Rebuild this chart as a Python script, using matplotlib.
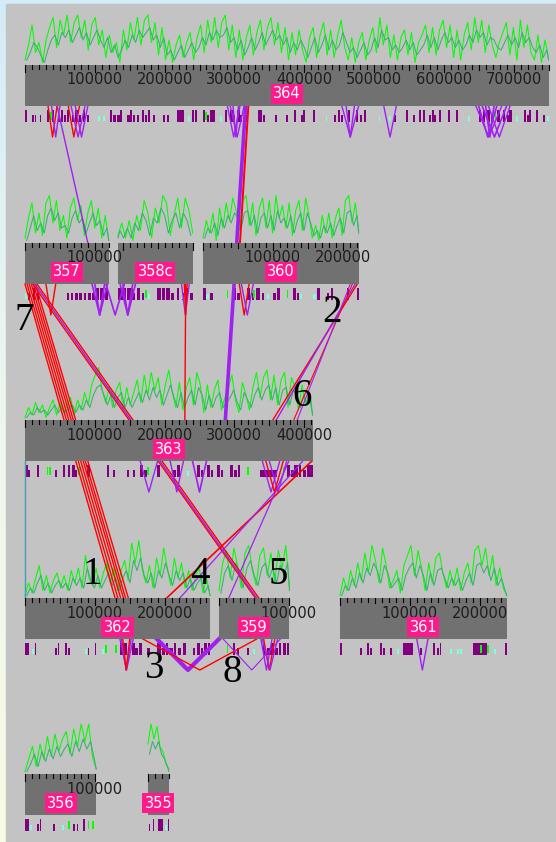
import numpy as np
import matplotlib
matplotlib.use("Agg")
import matplotlib.pyplot as plt
from matplotlib.patches import Rectangle

# contigs and their lengths (kb)
names = ["364", "357", "358c", "360", "363", "362", "359", "361", "356", "355"]
lengths_kb = [750, 120, 107, 223, 412, 265, 101, 239, 102, 30]

# GC traces (height units), fine window (bright) and coarse window (dark)
gc_364 = [2, 8, 16, 5, 9, 1, 10, 15, 19, 7, 18, 12, 20, 9, 17, 20, 11, 18, 6, 16,
          19, 8, 14, 3, 12, 5, 9, 1, 14, 6, 17, 10, 19, 8, 18, 20, 9, 17, 4, 15,
          2, 10, 1, 8, 12, 3, 9, 13, 2, 11, 16, 5, 18, 9, 19, 7, 17, 20, 6, 16,
          3, 14, 2, 11, 16, 4, 13, 18, 6, 15, 19, 8, 17, 5, 15, 2, 13, 4, 14, 6,
          1, 11, 15, 3, 12, 17, 4, 14, 3, 12, 18, 7, 2, 11, 1, 9, 13, 2, 10, 15,
          5, 19, 8, 16, 3, 12, 2, 11, 14, 4, 13, 1, 9, 12, 16, 5, 15, 4, 14, 18,
          7, 16, 3, 14, 2, 12, 17, 6, 19, 9, 18, 5, 16, 8, 3, 9, 13, 17, 4, 15,
          2, 18, 7, 16, 5, 2, 12, 1, 10, 3]
dk_364 = [2, 5, 9, 7, 4, 1, 6, 10, 12, 8, 13, 11, 14, 9, 12, 15, 10, 13, 8, 11,
          14, 10, 7, 11, 5, 8, 3, 6, 10, 7, 12, 9, 14, 11, 13, 15, 10, 12, 7, 11,
          4, 6, 2, 5, 8, 3, 6, 9, 5, 7, 11, 8, 13, 10, 14, 11, 12, 15, 9, 11,
          6, 10, 4, 7, 11, 6, 9, 13, 8, 11, 14, 10, 12, 8, 11, 5, 9, 6, 10, 7,
          3, 7, 11, 5, 8, 12, 6, 10, 6, 8, 13, 9, 5, 7, 3, 6, 9, 4, 6, 11,
          7, 14, 10, 11, 6, 8, 5, 7, 10, 6, 9, 4, 6, 8, 12, 7, 11, 6, 10, 13,
          9, 11, 7, 10, 6, 8, 12, 9, 14, 11, 13, 8, 11, 10, 7, 6, 9, 12, 8, 11,
          7, 13, 9, 11, 7, 5, 8, 3, 6, 2]
gc_357 = [2, 10, 16, 4, 12, 3, 16, 19, 8, 17, 5, 11, 2, 14, 18, 9, 15, 3, 12, 17, 6, 14, 2, 11, 1]
dk_357 = [1, 6, 11, 5, 8, 4, 11, 14, 9, 12, 6, 7, 4, 10, 13, 8, 10, 4, 8, 12, 7, 9, 3, 6, 1]
gc_358c = [4, 13, 18, 6, 18, 11, 3, 16, 19, 8, 14, 2, 12, 17, 5, 11, 1, 9, 2, 8, 3]
dk_358c = [3, 9, 12, 6, 12, 9, 4, 11, 14, 8, 10, 3, 9, 12, 5, 8, 2, 6, 2, 5, 2]
gc_360 = [2, 9, 4, 12, 1, 14, 6, 16, 9, 18, 13, 5, 17, 19, 7, 16, 3, 14, 18, 6,
          17, 4, 19, 10, 15, 6, 16, 3, 13, 17, 5, 18, 11, 2, 7, 1, 11, 4, 12, 2,
          10, 14, 3, 17, 19, 8, 16, 5]
dk_360 = [2, 6, 4, 8, 3, 10, 6, 11, 8, 12, 10, 6, 12, 13, 7, 11, 4, 10, 12, 6,
          11, 5, 13, 8, 10, 6, 11, 4, 9, 12, 5, 12, 8, 3, 5, 2, 7, 4, 8, 3,
          7, 10, 4, 12, 13, 7, 11, 4]
gc_363 = [1, 5, 2, 7, 3, 6, 1, 5, 8, 2, 7, 3, 6, 9, 2, 8, 4, 11, 6, 14,
          18, 21, 12, 7, 13, 5, 12, 15, 4, 13, 6, 11, 16, 7, 18, 10, 19, 12, 17, 6,
          14, 20, 11, 5, 15, 4, 13, 17, 6, 19, 14, 3, 14, 5, 12, 16, 4, 9, 13, 18,
          8, 3, 15, 10, 4, 13, 19, 9, 17, 20, 8, 18, 6, 16, 19, 5, 17, 13, 4, 14,
          6, 10, 2]
dk_363 = [1, 3, 2, 5, 3, 4, 2, 4, 6, 3, 5, 3, 5, 6, 3, 6, 4, 8, 5, 10,
          13, 14, 10, 6, 10, 5, 9, 11, 5, 9, 5, 8, 11, 7, 12, 8, 13, 9, 12, 6,
          10, 14, 9, 5, 11, 5, 9, 12, 6, 13, 10, 4, 10, 5, 9, 11, 5, 7, 9, 12,
          7, 4, 11, 8, 5, 10, 13, 8, 12, 14, 8, 13, 6, 12, 13, 6, 12, 10, 5, 10,
          6, 8, 2]
gc_362 = [1, 6, 2, 8, 13, 3, 9, 2, 7, 10, 4, 9, 3, 11, 6, 12, 4, 17, 8, 5,
          12, 4, 10, 14, 6, 12, 3, 11, 15, 7, 22, 14, 23, 11, 6, 13, 4, 16, 9, 20,
          12, 5, 16, 8, 14, 4, 11, 3, 9, 12, 2, 8, 1]
dk_362 = [1, 4, 2, 6, 9, 3, 6, 2, 5, 7, 4, 6, 3, 8, 5, 8, 4, 12, 7, 4,
          9, 4, 7, 10, 5, 8, 3, 8, 11, 6, 15, 11, 16, 9, 6, 10, 4, 11, 8, 14,
          9, 5, 11, 7, 10, 4, 8, 3, 6, 8, 2, 5, 1]
gc_359 = [3, 14, 19, 8, 20, 13, 4, 18, 21, 11, 5, 17, 20, 9, 18, 6, 19, 12, 21, 4]
dk_359 = [2, 10, 13, 7, 14, 10, 4, 12, 15, 9, 5, 12, 14, 8, 12, 6, 13, 9, 14, 3]
gc_361 = [1, 8, 3, 11, 5, 14, 7, 18, 10, 21, 15, 6, 20, 13, 4, 7, 11, 2, 13, 17,
          21, 9, 19, 12, 3, 14, 6, 16, 18, 10, 4, 11, 5, 12, 3, 10, 14, 6, 19, 21,
          13, 20, 9, 17, 5, 12, 4, 1]
dk_361 = [1, 5, 3, 8, 4, 10, 6, 12, 9, 14, 11, 6, 13, 10, 4, 6, 8, 3, 9, 12,
          14, 8, 13, 9, 3, 10, 5, 11, 12, 8, 4, 8, 5, 8, 3, 7, 10, 5, 13, 14,
          10, 13, 7, 12, 5, 8, 3, 1]
gc_356 = [1, 6, 11, 3, 12, 6, 15, 7, 16, 9, 14, 17, 8, 18, 11, 20, 13, 20, 7, 2]
dk_356 = [1, 4, 8, 3, 9, 5, 10, 6, 11, 7, 10, 12, 7, 13, 9, 14, 10, 13, 6, 2]
gc_355 = [12, 20, 14, 19, 11, 9, 4, 2]
dk_355 = [8, 13, 10, 13, 8, 6, 3, 1]

# features (start kb, length kb, kind) P tall purple, p short purple, a aqua, g lime
feat_364 = [(0, 3, 'P'), (10, 2, 'p'), (14, 2, 'p'), (21, 2, 'p'), (32, 3, 'P'), (36, 2, 'g'),
            (38, 3, 'P'), (47, 3, 'p'), (52, 3, 'P'), (56, 2, 'p'), (60, 3, 'P'), (67, 3, 'p'),
            (72, 4, 'P'), (77, 3, 'p'), (83, 3, 'P'), (89, 2, 'p'), (105, 2, 'a'), (112, 2, 'a'),
            (122, 3, 'P'), (126, 4, 'p'), (132, 4, 'p'), (136, 3, 'P'), (146, 4, 'p'), (150, 3, 'P'),
            (155, 3, 'p'), (160, 3, 'p'), (168, 3, 'P'), (172, 3, 'p'), (176, 3, 'P'), (183, 3, 'p'),
            (198, 3, 'p'), (203, 3, 'p'), (218, 10, 'P'), (234, 2, 'a'), (239, 3, 'P'), (244, 3, 'P'),
            (255, 3, 'P'), (258, 2, 'g'), (261, 3, 'p'), (265, 4, 'P'), (269, 3, 'P'), (279, 3, 'a'),
            (287, 3, 'P'), (294, 4, 'P'), (298, 3, 'p'), (304, 4, 'P'), (308, 3, 'p'), (315, 3, 'p'),
            (334, 5, 'P'), (341, 3, 'p'), (358, 3, 'p'), (374, 3, 'p'), (385, 3, 'P'), (395, 3, 'p'),
            (398, 3, 'P'), (413, 3, 'P'), (431, 2, 'a'), (443, 3, 'p'), (449, 3, 'P'), (453, 3, 'p'),
            (463, 3, 'P'), (474, 3, 'P'), (480, 3, 'p'), (486, 3, 'P'), (507, 2, 'a'), (522, 2, 'a'),
            (529, 3, 'p'), (546, 3, 'P'), (556, 3, 'p'), (565, 3, 'P'), (570, 3, 'P'), (579, 3, 'p'),
            (583, 3, 'P'), (586, 3, 'p'), (593, 3, 'P'), (606, 3, 'P'), (618, 3, 'P'), (635, 2, 'a'),
            (651, 3, 'P'), (656, 3, 'P'), (662, 4, 'P'), (668, 3, 'p'), (673, 2, 'g'), (676, 4, 'P'),
            (685, 3, 'P'), (691, 3, 'p'), (694, 3, 'P'), (704, 2, 'a'), (715, 3, 'P'), (719, 3, 'p'),
            (722, 3, 'P'), (732, 3, 'P'), (742, 3, 'p'), (748, 2, 'a')]
feat_357 = [(0, 3, 'a'), (4, 3, 'p'), (7, 3, 'a'), (12, 2, 'P'), (17, 3, 'p'), (60, 3, 'p'),
            (66, 3, 'p'), (72, 4, 'p'), (78, 4, 'p'), (84, 4, 'p'), (90, 4, 'p'), (96, 4, 'p'),
            (102, 4, 'P'), (108, 5, 'P'), (114, 5, 'P')]
feat_358c = [(0, 4, 'p'), (6, 3, 'P'), (12, 4, 'p'), (14, 2, 'a'), (20, 3, 'P'), (27, 4, 'p'),
             (33, 5, 'P'), (40, 4, 'P'), (46, 5, 'P'), (61, 3, 'a'), (66, 2, 'g'), (70, 3, 'p'),
             (76, 4, 'P'), (82, 3, 'p'), (86, 8, 'P'), (95, 6, 'P'), (101, 6, 'P')]
feat_360 = [(0, 4, 'P'), (5, 3, 'a'), (10, 4, 'p'), (34, 2, 'g'), (43, 4, 'P'), (49, 4, 'p'),
            (63, 5, 'P'), (70, 3, 'p'), (72, 2, 'g'), (76, 5, 'P'), (84, 4, 'p'), (92, 3, 'a'),
            (100, 4, 'p'), (106, 4, 'P'), (120, 2, 'g'), (129, 4, 'P'), (135, 3, 'p'), (139, 3, 'a'),
            (158, 4, 'a'), (164, 4, 'P'), (177, 4, 'p'), (183, 3, 'P'), (206, 3, 'P'), (220, 3, 'P')]
feat_363 = [(0, 4, 'P'), (4, 3, 'p'), (17, 3, 'P'), (31, 2, 'g'), (35, 2, 'g'), (43, 3, 'p'),
            (54, 4, 'P'), (61, 4, 'P'), (67, 4, 'P'), (72, 3, 'p'), (76, 2, 'g'), (89, 4, 'P'),
            (118, 3, 'P'), (126, 3, 'p'), (146, 3, 'p'), (155, 3, 'p'), (165, 4, 'P'), (171, 4, 'p'),
            (175, 2, 'g'), (183, 3, 'a'), (189, 4, 'P'), (203, 3, 'a'), (212, 4, 'p'), (218, 4, 'P'),
            (232, 3, 'a'), (246, 4, 'P'), (252, 3, 'p'), (261, 4, 'P'), (266, 3, 'p'), (275, 4, 'P'),
            (281, 3, 'p'), (294, 4, 'P'), (300, 4, 'p'), (305, 3, 'P'), (318, 2, 'g'), (337, 24, 'p'),
            (369, 2, 'g'), (375, 5, 'P'), (381, 4, 'p'), (386, 5, 'P'), (392, 4, 'P'), (398, 5, 'p'),
            (404, 8, 'P')]
feat_362 = [(0, 2, 'P'), (3, 2, 'P'), (10, 3, 'a'), (14, 2, 'P'), (43, 2, 'p'), (47, 2, 'P'),
            (57, 3, 'P'), (62, 2, 'p'), (86, 3, 'a'), (90, 2, 'p'), (100, 2, 'P'), (110, 3, 'a'),
            (115, 2, 'g'), (129, 2, 'g'), (136, 10, 'P'), (154, 3, 'P'), (158, 4, 'p'), (163, 5, 'P'),
            (175, 4, 'p'), (189, 6, 'P'), (196, 5, 'p'), (202, 3, 'P'), (207, 5, 'p'), (214, 3, 'P'),
            (219, 5, 'p'), (226, 5, 'P'), (240, 3, 'p'), (246, 4, 'P'), (252, 3, 'p'), (257, 4, 'P'),
            (262, 3, 'P')]
feat_359 = [(11, 2, 'g'), (20, 3, 'P'), (26, 3, 'p'), (40, 3, 'p'), (49, 3, 'a'), (63, 3, 'P'),
            (69, 5, 'p'), (75, 4, 'P'), (80, 5, 'p'), (86, 3, 'P'), (92, 4, 'P'), (97, 4, 'P')]
feat_361 = [(0, 3, 'P'), (29, 3, 'p'), (39, 3, 'P'), (43, 2, 'p'), (57, 3, 'P'), (62, 2, 'p'),
            (72, 3, 'p'), (82, 3, 'a'), (90, 14, 'P'), (115, 3, 'p'), (133, 3, 'P'), (139, 3, 'p'),
            (143, 2, 'P'), (158, 3, 'a'), (167, 3, 'a'), (172, 3, 'a'), (190, 20, 'P'), (200, 3, 'g'),
            (210, 3, 'g'), (220, 3, 'a'), (236, 3, 'P')]
feat_356 = [(0, 6, 'P'), (7, 3, 'a'), (17, 3, 'p'), (21, 2, 'P'), (40, 2, 'p'), (53, 3, 'a'),
            (62, 2, 'g'), (69, 3, 'p'), (74, 2, 'p'), (83, 3, 'P'), (90, 2, 'g'), (96, 3, 'g')]
feat_355 = [(1, 2, 'p'), (7, 2, 'P'), (14, 7, 'P'), (24, 3, 'a'), (28, 2, 'P')]

# links between contigs: (contig a, kb a, contig b, kb b, colour, weight)
links = [
    ("364", 46, "357", 90, "purple", 1.0),
    ("364", 320, "360", 53, "red", 1.4),
    ("364", 316, "363", 287, "purple", 2.6),
    ("357", 0, "362", 129, "red", 1.0),
    ("357", 3, "362", 133, "red", 1.0),
    ("357", 6, "362", 137, "red", 1.0),
    ("357", 9, "362", 141, "red", 1.0),
    ("357", 12, "362", 144, "red", 1.0),
    ("357", 15, "362", 148, "red", 1.0),
    ("357", 11, "359", 52, "red", 1.0),
    ("357", 14, "359", 54, "purple", 1.0),
    ("357", 17, "359", 57, "red", 1.0),
    ("358c", 10, "363", 229, "red", 1.0),
    ("360", 221, "363", 355, "red", 1.0),
    ("360", 218, "363", 360, "purple", 1.0),
    ("360", 214, "363", 385, "red", 0.8),
    ("360", 211, "363", 390, "purple", 0.8),
    ("363", 411, "362", 203, "red", 1.2),
    ("363", 398, "362", 222, "purple", 0.9),
    ("363", 378, "359", 14, "purple", 0.9),
    ("363", 0, "362", 0, "teal", 1.0),
    # local links (same row)
    ("364", 33, "364", 46, "red", 1.0),
    ("364", 38, "364", 50, "purple", 1.0),
    ("364", 62, "364", 78, "red", 1.0),
    ("364", 66, "364", 86, "purple", 1.0),
    ("364", 72, "364", 90, "purple", 1.0),
    ("364", 290, "364", 308, "purple", 1.0),
    ("364", 294, "364", 314, "purple", 1.0),
    ("364", 298, "364", 306, "purple", 1.0),
    ("364", 454, "364", 478, "purple", 1.0),
    ("364", 460, "364", 472, "purple", 1.0),
    ("364", 514, "364", 532, "purple", 1.0),
    ("364", 646, "364", 683, "purple", 1.0),
    ("364", 650, "364", 676, "purple", 1.2),
    ("364", 655, "364", 690, "purple", 1.2),
    ("364", 660, "364", 672, "purple", 1.2),
    ("364", 664, "364", 695, "purple", 1.0),
    ("357", 30, "357", 44, "red", 1.0),
    ("357", 96, "357", 118, "purple", 1.2),
    ("357", 100, "357", 114, "purple", 1.2),
    ("357", 116, "358c", 98, "purple", 1.2),
    ("358c", 104, "358c", 82, "purple", 1.2),
    ("358c", 100, "358c", 86, "purple", 1.2),
    ("358c", 16, "358c", 5, "purple", 1.0),
    ("358c", 12, "358c", 8, "red", 1.0),
    ("360", 52, "360", 66, "red", 1.0),
    ("360", 55, "360", 72, "purple", 1.0),
    ("363", 165, "363", 190, "purple", 1.0),
    ("363", 208, "363", 227, "purple", 1.0),
    ("363", 240, "363", 260, "purple", 1.2),
    ("363", 340, "363", 365, "purple", 1.0),
    ("363", 350, "363", 375, "purple", 1.0),
    ("363", 345, "363", 370, "red", 1.0),
    ("362", 136, "362", 155, "purple", 1.0),
    ("362", 138, "362", 152, "purple", 1.0),
    ("362", 140, "362", 150, "red", 1.0),
    ("362", 189, "359", 0, "purple", 3.0),
    ("362", 169, "359", 54, "red", 1.0),
    ("359", 6, "359", 88, "purple", 0.8),
    ("359", 60, "359", 76, "purple", 1.0),
    ("359", 64, "359", 80, "red", 1.0),
    ("359", 62, "359", 84, "purple", 1.0),
    ("361", 110, "361", 126, "purple", 1.0),
]

# numbered markers: (label, contig, kb, offset from ruler top)
markers = [("1", "362", 97, -23), ("2", "360", 185, 70), ("3", "362", 185, 70),
           ("4", "362", 251, -24), ("5", "359", 85, -23), ("6", "363", 397, -23),
           ("7", "357", -1, 77), ("8", "359", 19, 75)]

# ---- layout (pixels) ----
W, H = 556, 842
PX_PER_KB = 0.698
ROW_TOP = [65, 243, 420, 598, 774]
BOX_H = 41
GC_UNIT = 2.5
V_DEPTH = 31
row_of = {"364": 0, "357": 1, "358c": 1, "360": 1, "363": 2,
          "362": 3, "359": 3, "361": 3, "356": 4, "355": 4}
left_of = {"364": 25, "357": 25, "358c": 118, "360": 203, "363": 25,
           "362": 25, "359": 219, "361": 340, "356": 25, "355": 148}
reversed_contigs = {"358c"}
length_of = dict(zip(names, lengths_kb))
gc_of = {"364": gc_364, "357": gc_357, "358c": gc_358c, "360": gc_360, "363": gc_363,
         "362": gc_362, "359": gc_359, "361": gc_361, "356": gc_356, "355": gc_355}
dk_of = {"364": dk_364, "357": dk_357, "358c": dk_358c, "360": dk_360, "363": dk_363,
         "362": dk_362, "359": dk_359, "361": dk_361, "356": dk_356, "355": dk_355}
feat_of = {"364": feat_364, "357": feat_357, "358c": feat_358c, "360": feat_360,
           "363": feat_363, "362": feat_362, "359": feat_359, "361": feat_361,
           "356": feat_356, "355": feat_355}
link_colors = {"red": "#ff0000", "purple": "#a020f0", "teal": "#3f9fb8"}
feat_style = {"P": ("#800080", 4, 16), "p": ("#800080", 9, 16),
              "a": ("#80ffd8", 10, 15), "g": ("#00ff00", 6, 14)}


def xpos(name, kb):
    kb = np.asarray(kb, dtype=float)
    if name in reversed_contigs:
        kb = length_of[name] - kb
    return left_of[name] + kb * PX_PER_KB


def box_top(name):
    return ROW_TOP[row_of[name]]


fig = plt.figure(figsize=(W / 100, H / 100), dpi=100)
ax = fig.add_axes([0, 0, 1, 1])
ax.set_xlim(0, W)
ax.set_ylim(H, 0)
ax.axis("off")

# page background: pale gradient strip and grey canvas
grad = np.linspace(0, 1, 256)[:, None]
cmap = matplotlib.colors.LinearSegmentedColormap.from_list("edge", ["#d4ecf8", "#eef7ee", "#f8fbe4"])
ax.imshow(grad, cmap=cmap, extent=[0, W, H, 0], aspect="auto", zorder=0)
ax.add_patch(Rectangle((6, 4), W - 6, H - 4, color="#c3c3c3", zorder=0.5))

# GC traces: coarse window drawn half a step later than the fine one
for name in names:
    L = length_of[name]
    for vals, col, z, shift in ((gc_of[name], "#00ff00", 1, 0.0),
                                (dk_of[name], "#3cae72", 1.1, 0.5)):
        v = np.array(vals, dtype=float)
        step = L / (len(v) - 1)
        kb = np.clip(np.arange(len(v)) * step + shift * step, 0, L)
        ax.plot(xpos(name, kb), box_top(name) - v * GC_UNIT, color=col, lw=0.75, zorder=z)

# features under each ruler
for name in names:
    bb = box_top(name) + BOX_H
    for start, size, kind in feat_of[name]:
        col, y0, y1 = feat_style[kind]
        xa, xb = xpos(name, start), xpos(name, start + size)
        x0, w = min(xa, xb), max(abs(xb - xa), 1.6)
        ax.add_patch(Rectangle((x0, bb + y0), w, y1 - y0, color=col, lw=0, zorder=2))

# links
for a, ka, b, kbb, col, lw in links:
    xa, xb = xpos(a, ka), xpos(b, kbb)
    c = link_colors[col]
    if row_of[a] == row_of[b]:
        yb = box_top(a) + BOX_H
        ax.plot([xa, (xa + xb) / 2, xb], [yb, yb + V_DEPTH, yb], color=c, lw=lw, zorder=2.5)
    else:
        if row_of[a] > row_of[b]:
            a, b, xa, xb = b, a, xb, xa
        ax.plot([xa, xb], [box_top(a) + BOX_H, box_top(b)], color=c, lw=lw, zorder=2.5)

# rulers, ticks, names
for name in names:
    top = box_top(name)
    L = length_of[name]
    x0 = left_of[name]
    ax.add_patch(Rectangle((x0, top), L * PX_PER_KB, BOX_H, color="#717171", lw=0, zorder=3))
    for kb in range(0, int(L) + 1, 10):
        tl = 7 if kb % 100 == 0 else (5 if kb % 50 == 0 else 3.5)
        x = xpos(name, kb)
        ax.plot([x, x], [top, top + tl], color="black", lw=0.8, zorder=4)
        if kb % 100 == 0 and kb > 0 and name not in reversed_contigs:
            ax.text(x, top + 15, f"{kb * 1000}", ha="center", va="center",
                    fontsize=10.5, color="#1c1c1c", zorder=5)
    ax.text(x0 + L * PX_PER_KB / 2, top + 29, name, ha="center", va="center",
            fontsize=10.5, color="white", zorder=6,
            bbox=dict(boxstyle="square,pad=0.15", fc="#ff1a8c", ec="none"))

# numbered markers
for label, name, kb, dy in markers:
    ax.text(xpos(name, kb), box_top(name) + dy, label, ha="center", va="center",
            fontsize=28, family="Liberation Serif", color="black", zorder=7)

fig.savefig("out.png", dpi=100)
